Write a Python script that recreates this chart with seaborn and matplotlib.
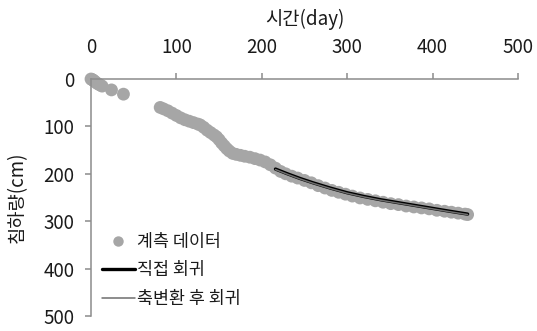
import matplotlib
matplotlib.use("Agg")
import matplotlib.pyplot as plt
import seaborn as sns
import pandas as pd
from matplotlib.lines import Line2D

# ---- data ----
obs_day = [0, 1, 2, 3, 5, 7, 9, 11, 13, 24, 38,
           81, 85, 90, 95, 100, 105, 110, 115, 120, 125, 128, 132, 136, 140,
           144, 147, 150, 153, 156, 159, 162, 166, 170, 175, 180, 186, 192,
           198, 204, 210, 216, 222, 228, 235, 242, 250, 258, 266, 274, 282,
           290, 298, 306, 315, 324, 333, 342, 351, 360, 369, 378, 387, 396,
           405, 414, 422, 430, 438, 441]
obs_settle = [0, 1, 2, 3, 6, 9, 11, 13, 15, 23, 32,
              60, 63, 67, 72, 77, 82, 86, 89, 92, 95, 97, 102, 108, 113,
              118, 122, 128, 135, 141, 147, 152, 157, 159, 161, 163, 165, 168,
              171, 175, 181, 188, 195, 200, 205, 209, 214, 219, 225, 230, 235,
              239, 243, 247, 251, 254, 257, 260, 263, 265, 268, 270, 272, 274,
              277, 279, 281, 283, 285, 286]

fit_day = [216, 230, 245, 260, 280, 300, 320, 340, 360, 380, 400, 420, 441]
direct_fit = [190, 200, 210, 219, 230, 240, 248, 255, 261, 267, 273, 279, 285]
transform_fit = [191, 201, 211, 220, 231, 241, 249, 256, 262, 268, 274, 280, 286]

labels = ["계측 데이터", "직접 회귀", "축변환 후 회귀"]
x_ticks = [0, 100, 200, 300, 400, 500]
y_ticks = [0, 100, 200, 300, 400, 500]

# ---- style ----
sns.set_style("white")
plt.rcParams["font.family"] = ["Noto Sans CJK KR", "DejaVu Sans"]

fig = plt.figure(figsize=(5.37, 3.31), dpi=100)
ax = fig.add_axes([91/537, 1-316/331, (518-91)/537, (316-79)/331])

dot_color = "#A6A6A6"
obs = pd.DataFrame({"day": obs_day, "settle": obs_settle})
sns.scatterplot(data=obs, x="day", y="settle", ax=ax, color=dot_color,
                s=85, edgecolor="none", linewidth=0, zorder=2, clip_on=False)
fit = pd.DataFrame({"day": fit_day, "direct": direct_fit, "trans": transform_fit})
sns.lineplot(data=fit, x="day", y="direct", ax=ax, color="black", lw=2.4, zorder=3)
sns.lineplot(data=fit, x="day", y="trans", ax=ax, color="#6E6E6E", lw=1.1, zorder=4)

ax.set_xlim(0, 500)
ax.set_ylim(500, 0)
ax.set_xticks(x_ticks)
ax.set_yticks(y_ticks)
ax.xaxis.tick_top()
ax.xaxis.set_label_position("top")

spine_c = "#8C8C8C"
for s in ["right", "bottom"]:
    ax.spines[s].set_visible(False)
for s in ["top", "left"]:
    ax.spines[s].set_color(spine_c)
    ax.spines[s].set_linewidth(1.1)

ax.tick_params(axis="x", which="both", top=True, bottom=False, direction="out",
               length=4, width=1.1, color=spine_c, labelsize=13.5, pad=11,
               labelcolor="#1a1a1a")
ax.tick_params(axis="y", which="both", left=True, direction="out",
               length=4, width=1.1, color=spine_c, labelsize=13.5, pad=8,
               labelcolor="#1a1a1a")

ax.set_xlabel("시간(day)", fontsize=13.5, labelpad=9, color="#1a1a1a")
ax.set_ylabel("침하량(cm)", fontsize=13.5, labelpad=11, color="#1a1a1a")

handles = [
    Line2D([], [], marker="o", linestyle="none", color=dot_color, markersize=7.5,
           markeredgewidth=0),
    Line2D([], [], color="black", lw=2.4),
    Line2D([], [], color="#6E6E6E", lw=1.1),
]
leg = ax.legend(handles, labels, loc="upper left", bbox_to_anchor=(0.025, 0.35),
                frameon=False, fontsize=12.5, handlelength=1.9, handletextpad=0.15,
                labelspacing=0.6, borderpad=0, borderaxespad=0)
for t in leg.get_texts():
    t.set_color("#1a1a1a")

fig.savefig("out.png", dpi=100)
